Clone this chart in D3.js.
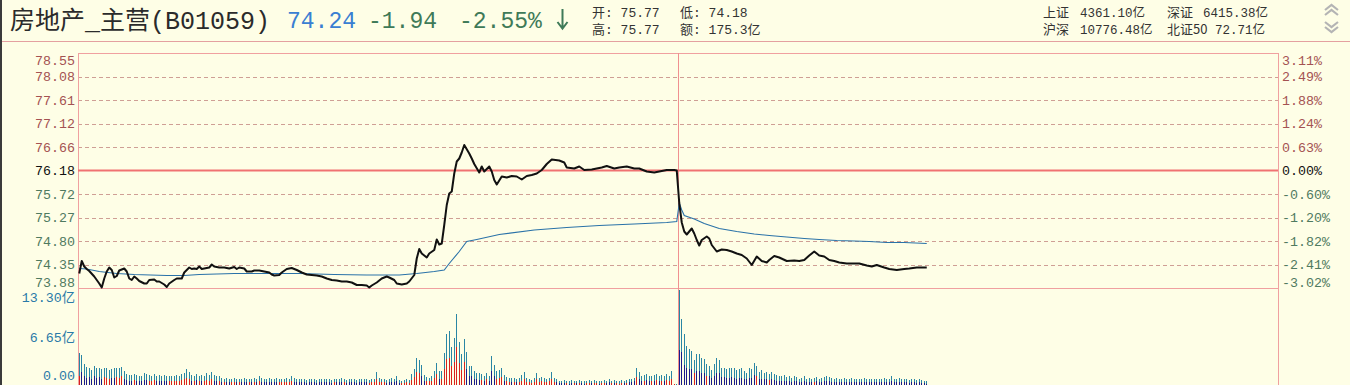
<!DOCTYPE html>
<html><head><meta charset="utf-8">
<script src="https://cdn.jsdelivr.net/npm/d3@7"></script>
<style>html,body{margin:0;padding:0;background:#fefee6;overflow:hidden}</style>
</head><body><svg id="c" width="1350" height="385"></svg>
<script>
// ---------- data ----------
const priceLabels = ["73.88","74.35","74.80","75.27","75.72","76.18","76.66","77.12","77.61","78.08","78.55"];
const pctLabels = ["-3.02%","-2.41%","-1.82%","-1.20%","-0.60%","0.00%","0.63%","1.24%","1.88%","2.49%","3.11%"];
const volTickValues = [0, 6.65, 13.30];
const volTickLabels = ["0.00","6.65亿","13.30亿"];
const prevClose = 76.18;

const priceT = [0,1,2,3,4,6,8,9,10,11,12,13,14,15,16,18,19,20,21,22,23,24,26,27,28,30,31,32,34,35,36,38,39,41,42,44,45,46,47,48,49,50,52,53,54,56,58,60,62,63,64,66,67,69,70,72,74,76,77,78,80,81,83,85,87,89,91,93,95,97,99,101,103,105,107,109,111,113,115,116,117,119,121,123,124,126,127,129,131,132,134,135,136,137,139,140,142,143,144,145,146,147,148,149,150,151,152,153,154,156,157,158,160,161,162,164,165,166,167,169,171,173,175,177,179,181,183,185,187,189,192,194,195,198,200,202,205,207,209,211,214,216,219,222,224,227,230,232,235,238,239,
240,241,242,243,244,245,246,247,248,249,251,252,253,255,257,259,261,263,265,267,269,271,273,275,276,278,280,283,286,288,290,292,294,296,298,300,302,304,307,310,312,315,317,319,322,324,327,330,332,335,337,339];
const priceV = [74.12,74.37,74.26,74.21,74.17,74.06,73.92,73.84,74.02,74.16,74.24,74.19,74.04,74.07,74.18,74.22,74.16,74.02,73.99,74.06,74.02,73.97,73.92,73.92,73.99,74.00,73.96,73.96,73.90,73.85,73.92,73.99,74.02,74.02,74.14,74.24,74.21,74.22,74.21,74.26,74.21,74.22,74.24,74.30,74.26,74.24,74.24,74.22,74.25,74.21,74.24,74.22,74.16,74.16,74.18,74.18,74.16,74.14,74.10,74.08,74.09,74.14,74.21,74.23,74.19,74.14,74.10,74.09,74.08,74.06,74.02,73.99,73.98,73.96,73.96,73.94,73.89,73.89,73.88,73.84,73.88,73.94,74.02,74.06,74.04,73.99,73.92,73.90,73.92,73.96,74.09,74.42,74.61,74.52,74.44,74.52,74.59,74.80,74.70,74.72,75.09,75.49,75.72,75.76,76.12,76.36,76.42,76.54,76.69,76.52,76.42,76.31,76.14,76.26,76.16,76.26,76.16,75.99,75.90,76.06,76.04,76.07,76.06,76.00,76.07,76.09,76.12,76.19,76.31,76.40,76.38,76.34,76.24,76.22,76.26,76.19,76.20,76.22,76.24,76.27,76.22,76.24,76.26,76.22,76.22,76.16,76.14,76.16,76.19,76.19,76.18,
75.53,75.14,74.96,74.90,74.96,75.02,74.92,74.79,74.68,74.79,74.86,74.82,74.69,74.56,74.60,74.59,74.56,74.52,74.49,74.42,74.29,74.46,74.37,74.34,74.39,74.47,74.44,74.37,74.38,74.37,74.39,74.48,74.56,74.48,74.46,74.39,74.37,74.34,74.32,74.32,74.32,74.28,74.26,74.29,74.24,74.21,74.19,74.21,74.22,74.24,74.24,74.24];

const avgT = [0,3,8,15,22,35,42,48,62,75,88,102,115,128,135,142,146,148,152,155,159,168,182,195,208,222,235,239,240,241,242,246,250,256,263,270,276,283,290,296,303,310,316,323,330,339];
const avgV = [74.22,74.21,74.16,74.12,74.10,74.08,74.08,74.10,74.12,74.12,74.12,74.10,74.09,74.09,74.12,74.16,74.19,74.32,74.56,74.76,74.80,74.90,74.99,75.04,75.08,75.11,75.14,75.16,75.53,75.39,75.28,75.21,75.12,75.02,74.96,74.91,74.88,74.85,74.82,74.80,74.78,74.77,74.76,74.74,74.74,74.72];

const volume = [
4.5,4.1,2.9,2.5,2.3,2.1,2.6,2.4,2.3,2.2,
2.4,2.3,2.1,2.2,2.3,2.4,2.3,2.5,1.9,1.5,
1.4,1.4,1.5,1.4,1.3,1.3,1.6,1.5,1.4,1.3,
1.5,1.3,1.4,1.2,1.4,1.3,1.2,1.3,1.2,1.4,
1.3,1.5,1.7,2.2,1.8,1.4,1.3,1.5,1.2,1.4,
1.3,1.6,1.4,1.8,1.4,1.3,1.2,1.0,0.9,1.0,
0.8,0.9,1.0,0.8,0.9,0.8,1.0,0.9,0.8,0.9,
1.0,0.9,1.2,1.0,0.9,0.8,1.0,0.9,0.8,1.0,
0.9,0.8,0.9,1.0,0.9,1.2,1.0,0.9,0.8,0.9,
0.8,0.7,0.8,0.9,0.8,0.7,0.8,0.9,0.8,0.9,
0.8,0.7,0.8,0.9,0.8,1.0,0.8,0.7,0.8,0.9,
0.8,0.7,0.9,0.8,0.9,0.8,0.7,0.8,0.9,1.8,
1.0,0.8,0.9,0.7,0.8,1.0,0.8,1.3,0.7,0.6,
0.7,0.8,0.7,1.5,2.2,3.7,3.4,2.8,1.35,1.1,
1.0,1.25,2.0,3.0,1.9,1.9,4.4,7.0,7.5,5.2,
6.5,9.9,5.9,4.3,6.4,4.6,2.65,2.65,1.95,1.7,
1.6,1.5,1.25,1.7,1.25,4.0,2.8,1.95,2.05,2.3,
1.4,1.1,0.93,1.0,0.93,0.8,0.93,1.4,1.86,1.0,
0.9,0.7,0.93,1.6,1.0,1.1,0.93,0.8,1.0,1.86,
0.93,0.8,0.56,0.6,0.7,0.6,0.5,0.7,0.6,0.6,
0.7,0.6,0.5,0.6,0.7,0.6,0.7,0.6,0.5,0.6,
0.7,0.6,0.8,0.6,0.7,0.6,0.5,0.7,0.6,0.7,
0.8,0.8,1.0,2.4,1.8,1.2,1.4,1.5,1.3,1.2,
1.4,1.5,1.3,1.4,1.2,1.5,1.3,1.9,0.15,0.1,
13.1,9.2,7.0,5.4,5.0,4.75,3.5,4.3,4.3,3.8,
3.6,2.9,2.6,2.1,2.9,3.8,3.5,2.4,2.4,2.25,
2.3,2.4,2.3,2.1,2.25,2.3,2.0,1.7,2.3,2.25,
3.1,2.6,1.8,2.1,1.7,1.8,1.5,1.8,1.5,1.4,
1.3,1.2,1.4,1.1,1.3,1.0,1.2,1.1,0.9,1.0,
1.2,0.9,1.0,0.8,1.0,1.1,0.9,1.0,1.1,1.3,
1.1,1.0,0.9,1.0,0.8,0.9,1.0,0.8,0.9,1.0,
0.8,0.9,0.8,0.9,1.0,0.8,0.9,0.8,0.9,0.8,
0.9,0.8,1.0,0.8,0.9,1.2,0.9,0.8,1.0,0.8,
0.9,0.8,0.7,0.9,0.8,0.7,0.8,0.7,0.6,0.5];

// signed inner part: positive = red (active buy), negative = navy (active sell)
const volInner = [
1.2,-1.8,-1.3,-1.0,-1.1,-0.9,-1.2,-1.0,-1.1,-0.9,
1.1,1.0,0.9,-1.0,-1.0,1.1,1.0,1.2,-0.8,-0.7,
-0.6,-0.6,0.7,-0.6,-0.6,-0.5,-0.7,-0.7,0.6,0.6,
0.7,-0.6,-0.6,-0.5,-0.6,-0.6,0.5,0.6,0.5,0.6,
0.6,0.7,0.8,1.0,0.8,-0.6,0.6,-0.7,0.5,-0.6,
0.6,0.7,0.6,0.8,-0.6,-0.6,0.5,-0.4,0.4,-0.4,
-0.4,0.4,0.4,-0.4,0.4,-0.4,-0.4,-0.4,0.4,-0.4,
0.4,-0.4,0.5,-0.4,-0.4,-0.4,-0.4,-0.4,-0.4,-0.4,
0.4,0.4,0.4,0.4,0.4,0.5,-0.4,-0.4,-0.4,-0.4,
-0.4,-0.3,-0.4,-0.4,-0.4,-0.3,-0.4,-0.4,-0.4,-0.4,
-0.4,-0.3,0.4,-0.4,-0.4,-0.4,0.4,-0.3,-0.4,-0.4,
-0.4,-0.3,-0.4,-0.4,-0.4,-0.4,0.3,0.4,0.4,0.8,
0.4,0.4,0.4,-0.3,-0.4,-0.4,-0.4,-0.6,-0.3,0.3,
0.3,0.4,0.3,0.7,1.1,1.8,1.6,-1.2,-0.6,0.5,
0.5,0.6,1.0,1.5,-0.9,0.9,2.2,3.6,3.8,2.6,
3.2,5.2,3.0,2.1,3.2,-2.2,-1.2,-1.2,-0.9,-0.8,
-0.7,0.7,-0.6,0.8,-0.6,-1.9,-1.3,0.9,1.0,1.1,
-0.6,0.5,0.4,-0.4,0.4,-0.4,0.4,0.6,0.9,0.4,
0.4,0.3,0.4,0.8,0.4,0.5,0.4,0.4,0.5,0.9,
0.4,-0.4,-0.3,-0.3,-0.3,0.3,-0.2,-0.3,0.3,-0.3,
0.3,-0.3,-0.2,0.3,0.3,-0.3,0.3,0.3,-0.2,0.3,
0.3,-0.3,-0.4,0.3,-0.3,0.3,0.2,0.3,-0.3,0.3,
-0.4,-0.4,-0.5,1.1,-0.8,-0.6,0.6,-0.7,-0.6,0.5,
-0.6,0.7,-0.6,0.6,-0.5,0.7,0.6,0.9,0.1,0.0,
-4.8,-4.6,-2.8,-2.4,-2.2,-2.2,1.6,-2.0,-1.9,-1.7,
-1.6,1.3,-1.2,-1.0,-1.3,-1.7,-1.6,-1.1,-1.1,-1.0,
-1.0,-1.1,-1.0,-0.9,-1.0,-1.0,-0.9,-0.8,-1.0,-1.0,
-1.4,1.2,-0.8,-0.9,-0.8,-0.8,0.7,-0.8,-0.7,-0.6,
-0.6,-0.5,-0.6,-0.5,-0.6,-0.4,-0.5,-0.5,-0.4,-0.4,
-0.5,-0.4,-0.4,-0.4,0.4,-0.5,-0.4,-0.4,-0.5,-0.6,
-0.5,-0.4,-0.4,-0.4,-0.4,-0.4,-0.4,-0.4,-0.4,-0.4,
-0.4,-0.4,-0.4,-0.4,-0.4,-0.4,-0.4,-0.4,-0.4,-0.4,
-0.4,-0.4,-0.4,-0.4,-0.4,-0.5,-0.4,-0.4,-0.4,-0.4,
-0.4,-0.4,-0.3,-0.4,-0.4,-0.3,-0.4,-0.3,-0.3,-0.2];

const headerTitle = "房地产_主营(B01059)";
const headerNums = ["74.24", "-1.94", "-2.55%"];
const quoteLabels = ["开: 75.77", "低: 74.18", "高: 75.77", "额: 175.3亿"];
const marketNames = ["上证", "深证", "沪深", "北证50"];
const marketVals = ["4361.10亿", "6415.38亿", "10776.48亿", "72.71亿"];

// ---------- layout ----------
const svg = d3.select("#c");
const L = 78, R = 1278, T = 53, MID = 288, B = 385, SPLIT = 678;
const MONO = "'Liberation Mono','Noto Sans CJK SC',monospace";
const CJK = "'Noto Sans CJK SC','Liberation Mono',sans-serif";

const x = d3.scaleLinear().domain([0, 480]).range([L, R]);
const y = d3.scaleLinear().domain([73.83, 78.53]).range([MID, T]);
const gridY = d3.scaleLinear().domain([0, priceLabels.length - 1]).range([MID, T]);
const yv = d3.scaleLinear().domain([0, 13.3]).range([B, 289]);

svg.append("rect").attr("width", 1350).attr("height", 385).attr("fill", "#fefee6");
svg.append("rect").attr("x", 0).attr("y", 0).attr("width", 2).attr("height", 385).attr("fill", "#3a3a3a");

// header separator
svg.append("line").attr("x1", 2).attr("x2", 1350).attr("y1", 41.5).attr("y2", 41.5)
  .attr("stroke", "#e4a0a0").attr("stroke-width", 1);

// dashed grid
const gridIdx = d3.range(1, priceLabels.length - 1).filter(i => i !== 5);
svg.append("g").selectAll("line").data(gridIdx).join("line")
  .attr("x1", L).attr("x2", R)
  .attr("y1", i => Math.round(gridY(i)) + 0.5).attr("y2", i => Math.round(gridY(i)) + 0.5)
  .attr("stroke", "#cf9f95").attr("stroke-dasharray", "4,3").attr("stroke-width", 1);

// borders
const bc = "#f0a0a0";
svg.append("line").attr("x1", L).attr("x2", R).attr("y1", T + 0.5).attr("y2", T + 0.5).attr("stroke", bc);
svg.append("line").attr("x1", L).attr("x2", R).attr("y1", MID + 0.5).attr("y2", MID + 0.5).attr("stroke", bc);
svg.append("line").attr("x1", L + 0.5).attr("x2", L + 0.5).attr("y1", T).attr("y2", B).attr("stroke", bc);
svg.append("line").attr("x1", R + 0.5).attr("x2", R + 0.5).attr("y1", T).attr("y2", B).attr("stroke", bc);
svg.append("line").attr("x1", SPLIT + 0.5).attr("x2", SPLIT + 0.5).attr("y1", T).attr("y2", B).attr("stroke", "#f09090");

// reference (previous close)
svg.append("line").attr("x1", L).attr("x2", R).attr("y1", y(prevClose)).attr("y2", y(prevClose))
  .attr("stroke", "#f07272").attr("stroke-width", 2);

// volume bars
const vg = svg.append("g").attr("shape-rendering", "crispEdges");
vg.selectAll("rect.t").data(volume).join("rect").attr("class", "t")
  .attr("x", (d, i) => Math.floor(x(i + 0.5))).attr("width", 1)
  .attr("y", d => yv(d)).attr("height", d => B - yv(d)).attr("fill", "#2a86a4");
vg.selectAll("rect.i").data(volInner).join("rect").attr("class", "i")
  .attr("x", (d, i) => Math.floor(x(i + 0.5))).attr("width", 1)
  .attr("y", d => yv(Math.abs(d))).attr("height", d => B - yv(Math.abs(d)))
  .attr("fill", d => d >= 0 ? "#d8211f" : "#1b1b8a");

// avg line
const avgPts = avgT.map((t, i) => [x(t + 0.5), y(avgV[i])]);
svg.append("path").attr("d", d3.line()(avgPts)).attr("fill", "none")
  .attr("stroke", "#2a72a8").attr("stroke-width", 1.1);

// price line
const pPts = priceT.map((t, i) => [x(t + 0.5), y(priceV[i])]);
svg.append("path").attr("d", d3.line()(pPts)).attr("fill", "none")
  .attr("stroke", "#111").attr("stroke-width", 2).attr("stroke-linejoin", "round");

// axis labels
const labColor = i => i > 5 ? "#a45252" : (i === 5 ? "#111" : "#4f7a60");
const labY = i => Math.max(60, Math.min(282, gridY(i)));
svg.append("g").selectAll("text").data(priceLabels).join("text")
  .attr("x", 75).attr("y", (d, i) => labY(i)).attr("dy", "0.36em")
  .attr("text-anchor", "end").attr("font-family", MONO).attr("font-size", 13.3)
  .attr("fill", (d, i) => labColor(i)).text(d => d);
svg.append("g").selectAll("text").data(pctLabels).join("text")
  .attr("x", 1282).attr("y", (d, i) => labY(i)).attr("dy", "0.36em")
  .attr("text-anchor", "start").attr("font-family", MONO).attr("font-size", 13.3)
  .attr("fill", (d, i) => labColor(i)).text(d => d);
svg.append("g").selectAll("text").data(volTickLabels).join("text")
  .attr("x", 75).attr("y", (d, i) => Math.max(297, Math.min(375, yv(volTickValues[i])))).attr("dy", "0.36em")
  .attr("text-anchor", "end").attr("font-family", MONO).attr("font-size", 13.3)
  .attr("fill", "#2a7aa8").text(d => d);

// header
svg.append("text").attr("x", 10).attr("y", 29).attr("font-family", MONO).attr("font-size", 25)
  .attr("fill", "#2b2b2b").text(headerTitle);
const numX = [287, 368, 459], numC = ["#3a7fd2", "#3f7a58", "#3f7a58"];
headerNums.forEach((t, i) => svg.append("text").attr("x", numX[i]).attr("y", 28)
  .attr("font-family", MONO).attr("font-size", 23).attr("fill", numC[i]).text(t));
// down arrow
svg.append("path").attr("d", "M562.5,9 L562.5,28 M557.5,22 L562.5,28.5 L567.5,22")
  .attr("fill", "none").attr("stroke", "#3f7a58").attr("stroke-width", 2);

const qx = [592, 680, 592, 680], qy = [17, 17, 34, 34];
quoteLabels.forEach((t, i) => svg.append("text").attr("x", qx[i]).attr("y", qy[i])
  .attr("font-family", MONO).attr("font-size", 13).attr("fill", "#333").text(t));
const mnx = [1043, 1167, 1043, 1167], mvx = [1080, 1203, 1080, 1215], my = [17, 17, 34, 34];
marketNames.forEach((t, i) => svg.append("text").attr("x", mnx[i]).attr("y", my[i])
  .attr("font-family", CJK).attr("font-size", 13).attr("fill", "#333").text(t));
marketVals.forEach((t, i) => svg.append("text").attr("x", mvx[i]).attr("y", my[i])
  .attr("font-family", MONO).attr("font-size", 12.5).attr("fill", "#333").text(t));

// scroll chevrons
svg.append("path").attr("d", "M1325,10 L1331.5,5 L1338,10 M1325,15 L1331.5,10 L1338,15 M1325,22 L1331.5,27 L1338,22 M1325,27 L1331.5,32 L1338,27")
  .attr("fill", "none").attr("stroke", "#b4b4b4").attr("stroke-width", 2.2);
</script></body></html>
